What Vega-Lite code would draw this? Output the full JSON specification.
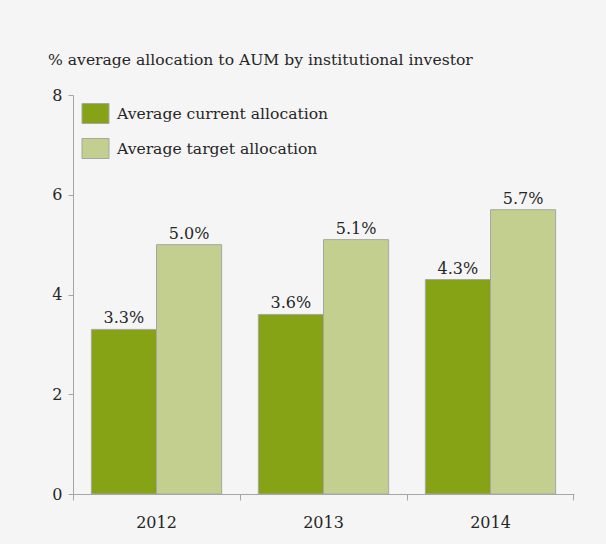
{
  "$schema": "https://vega.github.io/schema/vega-lite/v6.json",
  "width": 501,
  "height": 399,
  "autosize": {"type": "none"},
  "padding": {"left": 73, "top": 95, "right": 32, "bottom": 50},
  "background": "#f5f5f5",
  "title": {
    "text": "% average allocation to AUM by institutional investor",
    "anchor": "start",
    "frame": "group",
    "dx": -25,
    "offset": 18,
    "font": "DejaVu Serif",
    "fontSize": 15.6,
    "fontWeight": "normal",
    "color": "#262626"
  },
  "config": {"view": {"stroke": null}, "font": "DejaVu Serif"},
  "data": {
    "values": [
      {"year": "2012", "series": "Average current allocation", "value": 3.3, "label": "3.3%"},
      {"year": "2012", "series": "Average target allocation", "value": 5.0, "label": "5.0%"},
      {"year": "2013", "series": "Average current allocation", "value": 3.6, "label": "3.6%"},
      {"year": "2013", "series": "Average target allocation", "value": 5.1, "label": "5.1%"},
      {"year": "2014", "series": "Average current allocation", "value": 4.3, "label": "4.3%"},
      {"year": "2014", "series": "Average target allocation", "value": 5.7, "label": "5.7%"}
    ]
  },
  "encoding": {
    "xOffset": {"field": "series", "type": "nominal", "sort": ["Average current allocation", "Average target allocation"]},
    "y": {
      "field": "value",
      "type": "quantitative",
      "scale": {"domain": [0, 8]},
      "axis": {
        "values": [0, 2, 4, 6, 8],
        "grid": false,
        "title": null,
        "domainColor": "#a6a6a6",
        "tickColor": "#a6a6a6",
        "tickSize": 5,
        "labelFontSize": 16,
        "labelFont": "DejaVu Serif",
        "labelColor": "#262626",
        "labelPadding": 6
      }
    }
  },
  "layer": [
    {
      "mark": {"type": "bar", "stroke": "#a6a6a6", "strokeWidth": 1},
      "encoding": {
        "x": {
          "field": "year",
          "type": "nominal",
          "scale": {"paddingInner": 0.22, "paddingOuter": 0.11},
          "axis": {
            "title": null,
            "orient": "bottom",
            "labelAngle": 0,
            "bandPosition": -0.141,
            "tickSize": 6,
            "domainColor": "#a6a6a6",
            "tickColor": "#a6a6a6",
            "labelFontSize": 16,
            "labelFont": "DejaVu Serif",
            "labelColor": "#262626",
            "labelPadding": 14
          }
        },
        "color": {
          "field": "series",
          "type": "nominal",
          "scale": {
            "domain": ["Average current allocation", "Average target allocation"],
            "range": ["#86a215", "#c3cf8f"]
          },
          "legend": {
            "title": null,
            "orient": "none",
            "legendX": 12,
            "legendY": 8,
            "padding": 0,
            "symbolType": "M-1.35,-1H1.35V1H-1.35Z",
            "symbolSize": 400,
            "symbolStrokeColor": "#a6a6a6",
            "symbolStrokeWidth": 1,
            "symbolOpacity": 1,
            "labelFontSize": 15.6,
            "labelFont": "DejaVu Serif",
            "labelColor": "#262626",
            "labelOffset": 11,
            "labelLimit": 400,
            "rowPadding": 10
          }
        }
      }
    },
    {
      "mark": {"type": "text", "dy": -6, "fontSize": 16, "font": "DejaVu Serif", "color": "#262626", "baseline": "alphabetic"},
      "encoding": {
        "x": {
          "field": "year",
          "type": "nominal",
          "axis": {
            "title": null,
            "orient": "bottom",
            "bandPosition": 1.141,
            "values": ["2014"],
            "labels": false,
            "domain": false,
            "tickSize": 6,
            "tickColor": "#a6a6a6"
          }
        },
        "text": {"field": "label"}
      }
    }
  ],
  "resolve": {"axis": {"x": "independent"}}
}
